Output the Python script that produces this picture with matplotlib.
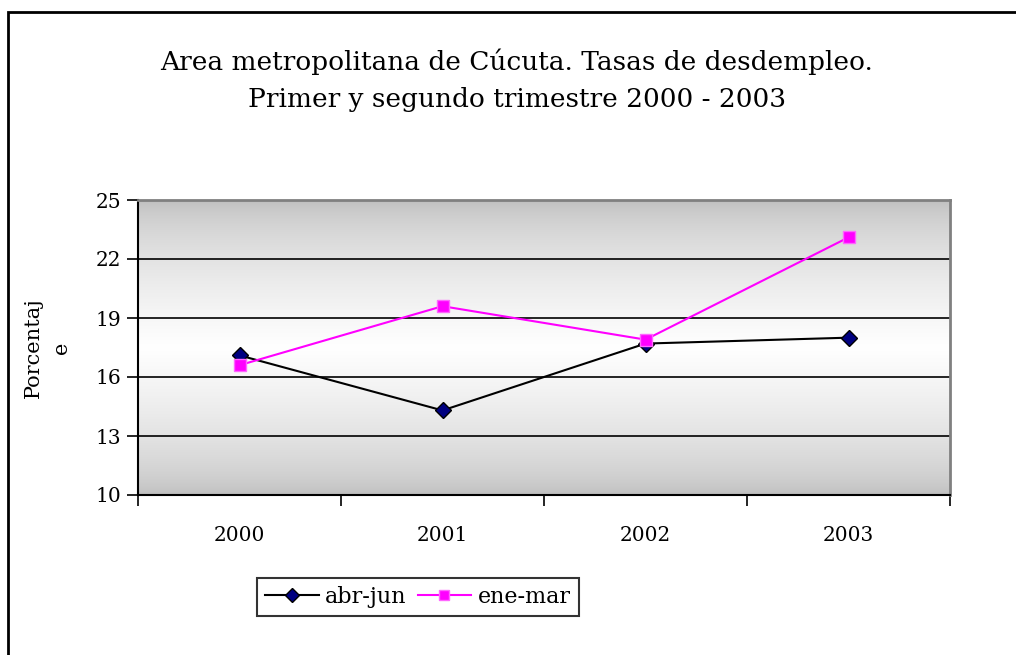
"""Tasas de desempleo, área metropolitana de Cúcuta, 2000-2003."""

import matplotlib

matplotlib.use("Agg")
import matplotlib.pyplot as plt
import numpy as np
from matplotlib.patches import Rectangle

anios = ["2000", "2001", "2002", "2003"]
abr_jun = [17.1, 14.3, 17.7, 18.0]
ene_mar = [16.6, 19.6, 17.9, 23.1]
y_ticks = [10, 13, 16, 19, 22, 25]

SERIF = ["DejaVu Serif"]

fig = plt.figure(figsize=(10.16, 6.55), dpi=100)
# marco exterior del gráfico
fig.patches.append(Rectangle((8 / 1016, -0.05), 1.2, 1 - 12 / 655 + 0.05,
                             transform=fig.transFigure, fill=False,
                             edgecolor="black", linewidth=2))

ax = fig.add_axes([138 / 1016, 160 / 655, 812 / 1016, 295 / 655])

# fondo degradado gris-blanco-gris
t = np.linspace(0, 1, 256)
g = 0.74 + 0.26 * (1 - np.abs(t - 0.5) * 2) ** 0.6
ax.imshow(np.dstack([g, g, g]).reshape(256, 1, 3), extent=[0, 4, 10, 25],
          aspect="auto", origin="lower", zorder=0)

x = np.arange(len(anios)) + 0.5
ax.plot(x, abr_jun, color="black", linewidth=1.5, marker="D", markersize=8,
        markerfacecolor="#000080", markeredgecolor="black", label="abr-jun", zorder=3)
ax.plot(x, ene_mar, color="#ff00ff", linewidth=1.5, marker="s", markersize=8,
        markerfacecolor="#ff00ff", markeredgecolor="#ff66ff", label="ene-mar", zorder=3)

ax.set_xlim(0, 4)
ax.set_ylim(10, 25)
ax.set_yticks(y_ticks)
ax.set_yticklabels([str(v) for v in y_ticks], family=SERIF, fontsize=14.5)
ax.set_xticks(range(5))
ax.set_xticklabels([])
ax.set_xticks(x, minor=True)
ax.set_xticklabels(anios, minor=True, family=SERIF, fontsize=14.5)
ax.tick_params(axis="x", which="minor", length=0, pad=22)
ax.tick_params(axis="x", which="major", direction="out", length=8, width=1.2)
ax.tick_params(axis="y", direction="out", length=8, width=1.2, pad=4)
for v in y_ticks[1:-1]:
    ax.axhline(v, color="black", linewidth=1.2, zorder=1)

ax.spines["left"].set_linewidth(1.5)
ax.spines["bottom"].set_linewidth(1.5)
for lado in ("top", "right"):
    ax.spines[lado].set_color("#808080")
    ax.spines[lado].set_linewidth(2)

ax.set_ylabel("Porcentaj\ne", family=SERIF, fontsize=15, labelpad=18, linespacing=1.6)

fig.text(517 / 1016, 1 - 62 / 655, "Area metropolitana de Cúcuta. Tasas de desdempleo.",
         ha="center", va="center", family=SERIF, fontsize=19)
fig.text(517 / 1016, 1 - 100 / 655, "Primer y segundo trimestre 2000 - 2003",
         ha="center", va="center", family=SERIF, fontsize=19)

leg = ax.legend(loc="center", bbox_to_anchor=(418 / 1016, 1 - 597 / 655),
                bbox_transform=fig.transFigure, ncol=2, frameon=True, fancybox=False,
                edgecolor="black", prop={"family": SERIF, "size": 16},
                handlelength=2.4, handletextpad=0.3, columnspacing=0.5,
                borderpad=0.35, markerscale=0.85)
leg.get_frame().set_linewidth(1.5)

fig.savefig("out.png", dpi=100)
